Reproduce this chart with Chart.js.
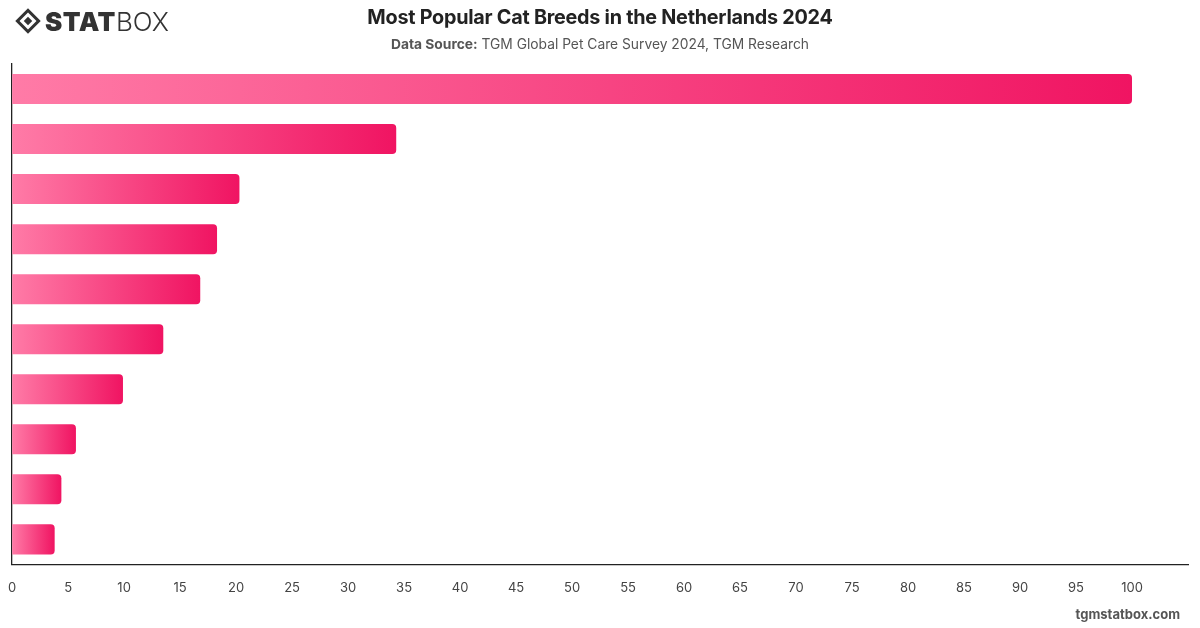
<!DOCTYPE html>
<html>
<head>
<meta charset="utf-8">
<script src="https://cdn.jsdelivr.net/npm/chart.js@4/dist/chart.umd.min.js"></script>
<style>
  html,body{margin:0;padding:0;background:#fff;}
  body{width:1200px;height:628px;position:relative;overflow:hidden;font-family:Inter,"Noto Sans",sans-serif;}
  #wrap{position:absolute;left:0;top:0;width:1200px;height:628px;}
  #title{position:absolute;left:0;top:5px;width:1200px;text-align:center;font-size:19.8px;font-weight:700;color:#222;letter-spacing:-0.25px;}
  #sub{position:absolute;left:0;top:36px;width:1200px;text-align:center;font-size:13.8px;color:#555;}
  #sub b{font-weight:700;}
  #logo{position:absolute;left:15px;top:6px;height:30px;display:flex;align-items:center;color:#333;}
  #logo .dm{width:18px;height:18px;border:3.5px solid #333;transform:rotate(45deg);margin:0 8px 0 4px;position:relative;box-sizing:border-box;}
  #logo .dm::after{content:"";position:absolute;left:2.5px;top:2.5px;width:6px;height:6px;background:#333;}
  #logo .s{font-size:26px;font-weight:900;letter-spacing:0.5px;}
  #logo .b{font-size:26px;font-weight:300;}
  #foot{position:absolute;right:20px;top:606px;font-size:13px;font-weight:700;color:#555;}
</style>
</head>
<body>
<div id="wrap"><canvas id="c" width="1200" height="628"></canvas></div>
<div id="logo"><div class="dm"></div><span class="s">STAT</span><span class="b">BOX</span></div>
<div id="title">Most Popular Cat Breeds in the Netherlands 2024</div>
<div id="sub"><b>Data Source:</b> TGM Global Pet Care Survey 2024, TGM Research</div>
<div id="foot">tgmstatbox.com</div>
<script>
const categories = ["1","2","3","4","5","6","7","8","9","10"];
const values = [100, 34.3, 20.3, 18.3, 16.8, 13.5, 9.9, 5.7, 4.4, 3.8];
const xTicks = [0,5,10,15,20,25,30,35,40,45,50,55,60,65,70,75,80,85,90,95,100];

function barGradient(ctx){
  const chart = ctx.chart;
  const xs = chart.scales.x;
  if(!chart.chartArea || !xs || ctx.type !== 'data') return '#f5508a';
  const x0 = xs.getPixelForValue(0);
  const x1 = xs.getPixelForValue(ctx.raw);
  if(!isFinite(x0) || !isFinite(x1) || x1 - x0 < 1) return '#f5508a';
  const g = chart.ctx.createLinearGradient(x0, 0, x1, 0);
  g.addColorStop(0, '#ff7ba7');
  g.addColorStop(1, '#f01462');
  return g;
}

new Chart(document.getElementById('c'), {
  type: 'bar',
  data: {
    labels: categories,
    datasets: [{
      data: values,
      backgroundColor: barGradient,
      borderRadius: 4,
      borderSkipped: 'start',
      barPercentage: 0.6,
      categoryPercentage: 1.0
    }]
  },
  options: {
    indexAxis: 'y',
    responsive: false,
    animation: false,
    layout: {padding: {left: 1, right: 12, top: 64, bottom: 24}},
    plugins: {legend: {display: false}, tooltip: {enabled: false}, title: {display: false}},
    scales: {
      x: {
        min: 0, max: 105,
        grid: {display: false},
        border: {display: true, color: '#222', width: 1.3},
        afterBuildTicks: (axis) => { axis.ticks = xTicks.map(v => ({value: v})); },
        ticks: {color: '#444', padding: 8, font: {family: 'Inter', size: 13}}
      },
      y: {
        grid: {display: false},
        border: {display: true, color: '#222', width: 1.3},
        ticks: {display: false}
      }
    }
  }
});
</script>
</body>
</html>
